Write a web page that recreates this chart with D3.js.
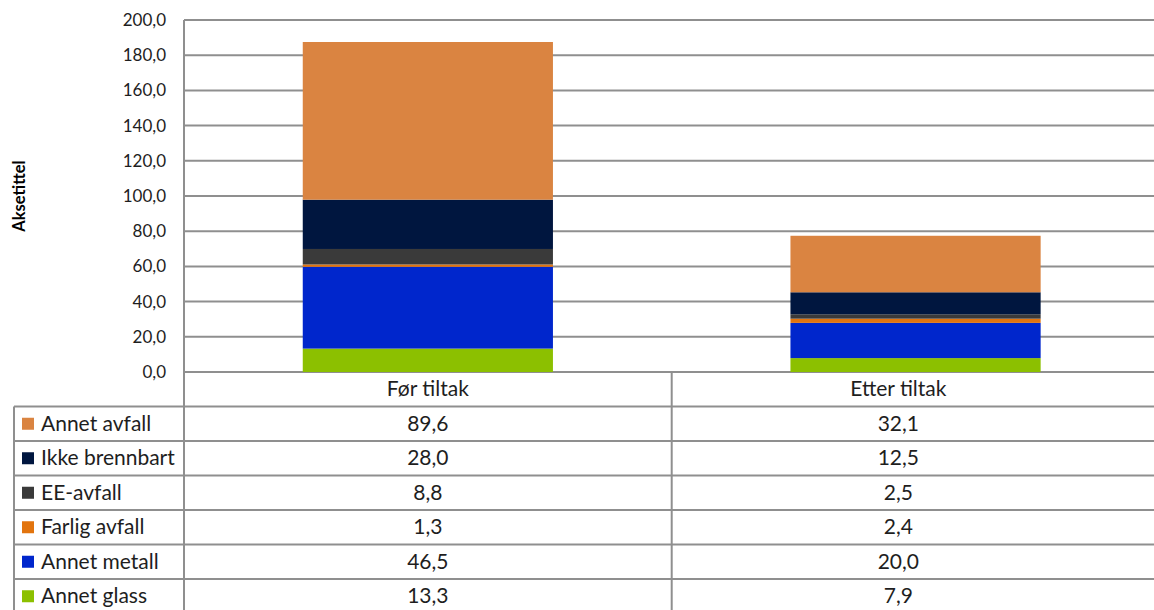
<!DOCTYPE html>
<html><head><meta charset="utf-8">
<script src="https://cdn.jsdelivr.net/npm/d3@7"></script>
<style>body{margin:0;background:#fff;}svg{display:block;font-family:Lato,"Open Sans",sans-serif;}</style>
</head><body>
<svg id="c" width="1154" height="610"></svg>
<script>
const categories = ["Før tiltak", "Etter tiltak"];
const seriesNames = ["Annet glass", "Annet metall", "Farlig avfall", "EE-avfall", "Ikke brennbart", "Annet avfall"];
const annetGlass = [13.3, 7.9];
const annetMetall = [46.5, 20.0];
const farligAvfall = [1.3, 2.4];
const eeAvfall = [8.8, 2.5];
const ikkeBrennbart = [28.0, 12.5];
const annetAvfall = [89.6, 32.1];
const yTicks = [0, 20, 40, 60, 80, 100, 120, 140, 160, 180, 200];
const colors = ["#8CC000", "#0026CC", "#E2740E", "#3A3A3A", "#00163F", "#DA8441"];
const seriesValues = [annetGlass, annetMetall, farligAvfall, eeAvfall, ikkeBrennbart, annetAvfall];

const svg = d3.select("#c");
const W = 1154;
const plotL = 184, plotR = 1159.4, plotT = 20, plotB = 372;
const rowH = 34.5, tableL = 14;
const gridColor = "#8f8f8f", textColor = "#1e1e1e";

const y = d3.scaleLinear().domain([0, 200]).range([plotB, plotT]);
const x = d3.scaleBand().domain(categories).range([plotL, plotR]).paddingInner(0.487).paddingOuter(0.2435);
const xCell = d3.scaleBand().domain(categories).range([plotL, plotR]);

const rows = categories.map((c, i) => { const o = {cat: c}; seriesNames.forEach((s, j) => o[s] = seriesValues[j][i]); return o; });
const stack = d3.stack().keys(seriesNames)(rows);

svg.append("g").selectAll("line").data(yTicks).join("line")
  .attr("x1", plotL).attr("x2", W).attr("y1", d => y(d)).attr("y2", d => y(d))
  .attr("stroke", gridColor).attr("stroke-width", 2);

const yAxis = d3.axisLeft(y).tickValues(yTicks).tickSize(0).tickPadding(18)
  .tickFormat(d => d3.format(".1f")(d).replace(".", ","));
const ya = svg.append("g").attr("transform", `translate(${plotL},0)`).call(yAxis);
ya.select(".domain").remove();
ya.selectAll("text").attr("font-size", 17).attr("fill", textColor).style("font-family", "Lato");

svg.append("g").selectAll("g").data(stack).join("g")
  .attr("fill", (d, i) => colors[i])
  .selectAll("rect").data(d => d).join("rect")
  .attr("x", d => x(d.data.cat)).attr("width", x.bandwidth())
  .attr("y", d => y(d[1])).attr("height", d => y(d[0]) - y(d[1]));

const tableSeries = seriesNames.slice().reverse();
const tableVals = seriesValues.slice().reverse();
const tableColors = colors.slice().reverse();
const nRows = tableSeries.length;
const tb = svg.append("g");
tb.selectAll("line.h").data(d3.range(1, nRows + 1)).join("line").attr("class", "h")
  .attr("x1", tableL).attr("x2", W).attr("y1", i => plotB + i * rowH).attr("y2", i => plotB + i * rowH)
  .attr("stroke", gridColor).attr("stroke-width", 2);
tb.append("line").attr("x1", tableL).attr("x2", tableL).attr("y1", plotB + rowH).attr("y2", 610)
  .attr("stroke", gridColor).attr("stroke-width", 2);
tb.append("line").attr("x1", plotL).attr("x2", plotL).attr("y1", plotT).attr("y2", 610)
  .attr("stroke", gridColor).attr("stroke-width", 2);
tb.selectAll("line.v").data(categories.slice(1)).join("line").attr("class", "v")
  .attr("x1", d => xCell(d)).attr("x2", d => xCell(d)).attr("y1", plotB).attr("y2", 610)
  .attr("stroke", gridColor).attr("stroke-width", 2);

const visR = 1125;
const colCenter = c => { const a = xCell(c), b = Math.min(xCell(c) + xCell.bandwidth(), visR); return (a + b) / 2; };
const fs = 21;

tb.selectAll("text.hd").data(categories).join("text").attr("class", "hd")
  .attr("x", d => colCenter(d)).attr("y", plotB + rowH / 2 + 7)
  .attr("text-anchor", "middle").attr("font-size", fs).attr("fill", textColor).text(d => d);

tableSeries.forEach((s, r) => {
  const cy = plotB + (r + 1) * rowH + rowH / 2;
  tb.append("rect").attr("x", 22).attr("y", cy - 6).attr("width", 12).attr("height", 12).attr("fill", tableColors[r]);
  tb.append("text").attr("x", 41).attr("y", cy + 7).attr("font-size", fs).attr("fill", textColor).text(s);
  categories.forEach((c, k) => {
    tb.append("text").attr("x", colCenter(c)).attr("y", cy + 7).attr("text-anchor", "middle")
      .attr("font-size", fs).attr("fill", textColor).text(d3.format(".1f")(tableVals[r][k]).replace(".", ","));
  });
});

svg.append("text").attr("transform", `translate(25,${(plotT + plotB) / 2}) rotate(-90)`)
  .attr("text-anchor", "middle").attr("font-size", 16.5).attr("font-weight", "bold").attr("fill", "#000").text("Aksetittel");
</script>
</body></html>
